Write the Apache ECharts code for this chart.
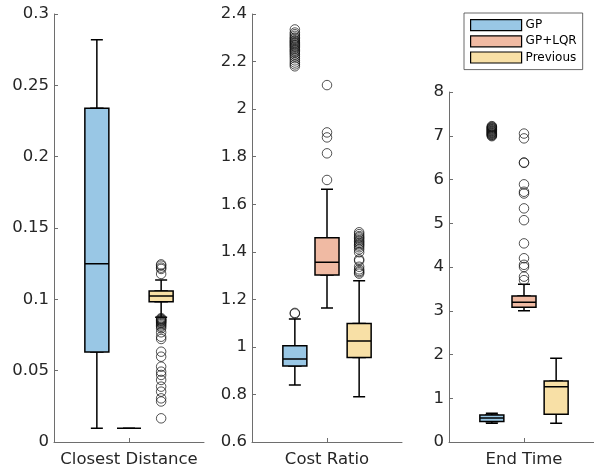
<!DOCTYPE html>
<html><head><meta charset="utf-8">
<script src="https://cdn.jsdelivr.net/npm/echarts/dist/echarts.min.js"></script>
<style>html,body{margin:0;padding:0;background:#fff}#c{width:594px;height:469px}</style>
</head><body><div id="c"></div>
<script>
// ---- data ----
const groups = ['GP', 'GP+LQR', 'Previous'];
const groupColors = ['#99C7E5', '#F0BAA3', '#F8E0A6'];
const panelTitles = ['Closest Distance', 'Cost Ratio', 'End Time'];
const yMins = [0, 0.6, 0];
const yMaxs = [0.3, 2.4, 8];
const yIntervals = [0.05, 0.2, 1];

// five-number summaries: [lower whisker, Q1, median, Q3, upper whisker]
const distGP   = [0.0096, 0.063, 0.125, 0.234, 0.282];
const distLQR  = [0.0096, 0.0096, 0.0096, 0.0096, 0.0096];
const distPrev = [0.0875, 0.0983, 0.1023, 0.1058, 0.1135];
const costGP   = [0.840, 0.920, 0.949, 1.005, 1.117];
const costLQR  = [1.164, 1.302, 1.356, 1.459, 1.663];
const costPrev = [0.790, 0.955, 1.025, 1.098, 1.278];
const timeGP   = [0.430, 0.470, 0.550, 0.617, 0.656];
const timeLQR  = [3.000, 3.079, 3.193, 3.337, 3.604];
const timePrev = [0.427, 0.633, 1.264, 1.394, 1.913];

// outliers
const distOutGP = [];
const distOutLQR = [];
const distOutPrev = [0.1245, 0.1236, 0.1222, 0.1213, 0.1178,
  0.0868, 0.0862, 0.0858, 0.0853, 0.0849, 0.0844, 0.0838, 0.0833, 0.0826, 0.0817, 0.0808,
  0.0797, 0.0769, 0.0738, 0.0722, 0.0633, 0.0598, 0.0528, 0.0493, 0.0470, 0.0435, 0.0388,
  0.0353, 0.0306, 0.0284, 0.0166];
const costOutGP = [1.140, 1.143, 2.335, 2.322, 2.315, 2.308, 2.301, 2.296, 2.290, 2.286, 2.281,
  2.277, 2.272, 2.268, 2.263, 2.258, 2.252, 2.247, 2.241, 2.236, 2.229, 2.222, 2.214, 2.205,
  2.196, 2.188, 2.180];
const costOutLQR = [2.101, 1.902, 1.881, 1.814, 1.702];
const costOutPrev = [1.482, 1.474, 1.466, 1.461, 1.455, 1.449, 1.443, 1.437, 1.432, 1.426,
  1.419, 1.410, 1.398, 1.368, 1.362, 1.337, 1.326, 1.319, 1.314, 1.308];
const timeOutGP = [7.220, 7.205, 7.190, 7.180, 7.165, 7.150, 7.140, 7.125, 7.110, 7.100, 7.085,
  7.070, 7.060, 7.045, 7.030, 7.020, 7.005, 6.990];
const timeOutLQR = [7.05, 6.94, 6.39, 6.38, 5.89, 5.72, 5.68, 5.34, 5.07, 4.54, 4.20, 4.05,
  4.00, 3.78, 3.70];
const timeOutPrev = [];

// ---- layout / style ----
const FONT = 'DejaVu Sans';
const AXIS_COLOR = '#6e6e6e';
const TEXT_COLOR = '#262626';
const NCAT = 15, CENTER = 7, SLOTS = [4, 7, 10];
const gridsPx = [
  {left: 54, top: 14, width: 150, height: 428},
  {left: 252, top: 14, width: 150, height: 428},
  {left: 449, top: 92, width: 150, height: 350}
];
const panels = [
  {boxes: [distGP, distLQR, distPrev], outs: [distOutGP, distOutLQR, distOutPrev]},
  {boxes: [costGP, costLQR, costPrev], outs: [costOutGP, costOutLQR, costOutPrev]},
  {boxes: [timeGP, timeLQR, timePrev], outs: [timeOutGP, timeOutLQR, timeOutPrev]}
];

const grid = [], xAxis = [], yAxis = [], series = [];
const EMPTY = ['-', '-', '-', '-', '-'];
panels.forEach((p, pi) => {
  grid.push(Object.assign({outerBoundsMode: 'none', containLabel: false}, gridsPx[pi]));
  const cats = [];
  for (let i = 0; i < NCAT; i++) cats.push(i === CENTER ? panelTitles[pi] : 'c' + i);
  xAxis.push({
    type: 'category', gridIndex: pi, data: cats, boundaryGap: false,
    axisLine: {show: true, onZero: false, lineStyle: {color: AXIS_COLOR, width: 1}},
    axisTick: {show: true, inside: true, length: 4, interval: (i) => i === CENTER,
      lineStyle: {color: AXIS_COLOR, width: 1}},
    axisLabel: {show: true, interval: (i) => i === CENTER, color: TEXT_COLOR,
      fontSize: 16.5, fontFamily: FONT, margin: 9},
    splitLine: {show: false}
  });
  xAxis.push({type: 'category', gridIndex: pi, data: cats, boundaryGap: false, show: false});
  yAxis.push({
    type: 'value', gridIndex: pi, min: yMins[pi], max: yMaxs[pi], interval: yIntervals[pi],
    axisLine: {show: true, lineStyle: {color: AXIS_COLOR, width: 1}},
    axisTick: {show: true, inside: true, length: 4, lineStyle: {color: AXIS_COLOR, width: 1}},
    axisLabel: {color: TEXT_COLOR, fontSize: 16.5, fontFamily: FONT, margin: 5},
    splitLine: {show: false}
  });
  const whiskerData = [], boxData = [];
  for (let i = 0; i < NCAT; i++) {
    const g = SLOTS.indexOf(i);
    if (g < 0) { whiskerData.push(EMPTY.slice()); boxData.push(EMPTY.slice()); continue; }
    const b = p.boxes[g];
    whiskerData.push(b.slice());
    boxData.push({value: [b[1], b[1], b[2], b[3], b[3]], itemStyle: {color: groupColors[g]}});
  }
  // whiskers with half-width caps (hidden twin axis)
  series.push({
    type: 'boxplot', xAxisIndex: pi * 2 + 1, yAxisIndex: pi, boxWidth: [12, 12],
    data: whiskerData, silent: true,
    itemStyle: {color: '#fff', borderColor: '#000', borderWidth: 1.5}
  });
  // boxes
  series.push({
    type: 'boxplot', xAxisIndex: pi * 2, yAxisIndex: pi, boxWidth: [24, 24],
    data: boxData, silent: true,
    itemStyle: {borderColor: '#000', borderWidth: 1.5}
  });
  // outliers
  const outData = [];
  p.outs.forEach((arr, g) => arr.forEach(v => outData.push([SLOTS[g], v])));
  series.push({
    type: 'scatter', xAxisIndex: pi * 2, yAxisIndex: pi, data: outData, silent: true,
    symbol: 'circle', symbolSize: 9.5,
    itemStyle: {color: 'rgba(0,0,0,0)', borderColor: '#111', borderWidth: 0.9}
  });
});
// legend entries
groups.forEach((name, g) => {
  series.push({type: 'bar', name: name, xAxisIndex: 4, yAxisIndex: 2, data: [],
    itemStyle: {color: groupColors[g], borderColor: '#000', borderWidth: 1}});
});

const chart = echarts.init(document.getElementById('c'), null, {renderer: 'canvas'});
chart.setOption({
  animation: false,
  backgroundColor: '#fff',
  grid, xAxis, yAxis, series,
  legend: {
    data: groups, orient: 'vertical', left: 464, top: 13,
    icon: 'rect', itemWidth: 51, itemHeight: 11, itemGap: 4,
    padding: [6, 6, 6, 6], selectedMode: false,
    borderColor: '#444', borderWidth: 0.8, backgroundColor: '#fff',
    textStyle: {fontSize: 12, fontFamily: FONT, color: '#000', padding: [0, 0, 0, -1]},
    itemStyle: {borderColor: '#000', borderWidth: 1.2}
  }
});
</script></body></html>
